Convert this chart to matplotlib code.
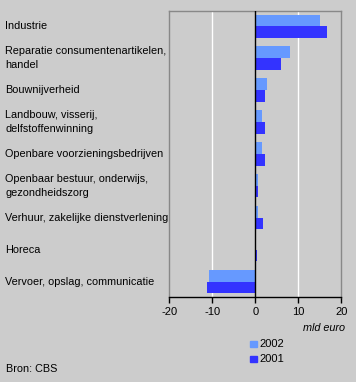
import matplotlib
matplotlib.use("Agg")
import matplotlib.pyplot as plt
import numpy as np

categories = [
    "Industrie",
    "Reparatie consumentenartikelen,\nhandel",
    "Bouwnijverheid",
    "Landbouw, visserij,\ndelfstoffenwinning",
    "Openbare voorzieningsbedrijven",
    "Openbaar bestuur, onderwijs,\ngezondheidszorg",
    "Verhuur, zakelijke dienstverlening",
    "Horeca",
    "Vervoer, opslag, communicatie",
]
values_2002 = [15.0, 8.1, 2.7, 1.5, 1.5, 0.6, 0.6, 0.0, -10.8]
values_2001 = [16.7, 6.0, 2.2, 2.2, 2.2, 0.6, 1.7, 0.35, -11.2]
xticks = [-20, -10, 0, 10, 20]

BG = "#cccccc"
C2002 = "#6699ff"
C2001 = "#3333ff"

plt.rcParams["font.family"] = ["Liberation Sans", "DejaVu Sans"]
fig = plt.figure(figsize=(3.56, 3.82), dpi=100, facecolor=BG)
ax = fig.add_axes([0.4756, 0.2217, 0.4831, 0.7487], facecolor=BG)

y = np.arange(len(categories))
h = 0.36
ax.barh(y - h / 2, values_2002, height=h, color=C2002, label="2002", zorder=3)
ax.barh(y + h / 2, values_2001, height=h, color=C2001, label="2001", zorder=3)

ax.set_xlim(-20, 20)
ax.set_ylim(8.48, -0.46)
ax.set_xticks(xticks)
ax.set_xticklabels([str(t) for t in xticks], fontsize=8)
ax.set_yticks([])
for v in [-10, 10]:
    ax.axvline(v, color="white", lw=1.0, zorder=1)
ax.axvline(0, color="black", lw=1.0, zorder=4)

for s in ["left", "top", "right"]:
    ax.spines[s].set_color("#888888")
    ax.spines[s].set_linewidth(1.0)
ax.spines["bottom"].set_color("black")
ax.spines["bottom"].set_linewidth(1.0)
ax.tick_params(axis="x", direction="out", length=4, width=1, color="black", pad=3)

for i, cat in enumerate(categories):
    yy = ax.transData.transform((0, i))[1]
    fy = yy / fig.bbox.height
    fig.text(5 / 356, fy, cat, ha="left", va="center", fontsize=7.8,
             linespacing=1.5)

fig.text(345 / 356, 1 - 328 / 382, "mld euro", ha="right", va="center",
         fontsize=7.8, style="italic")

# legend
for j, (lab, col) in enumerate([("2002", C2002), ("2001", C2001)]):
    yc = 1 - (344 + j * 15) / 382
    fig.patches.append(plt.Rectangle((250 / 356, yc - 3.3 / 382), 6.5 / 356, 6.5 / 382,
                                     transform=fig.transFigure, color=col))
    fig.text(259 / 356, yc, lab, ha="left", va="center", fontsize=8)

fig.text(6 / 356, 1 - 369 / 382, "Bron: CBS", ha="left", va="center", fontsize=7.8)

fig.savefig("out.png", dpi=100, facecolor=BG)
